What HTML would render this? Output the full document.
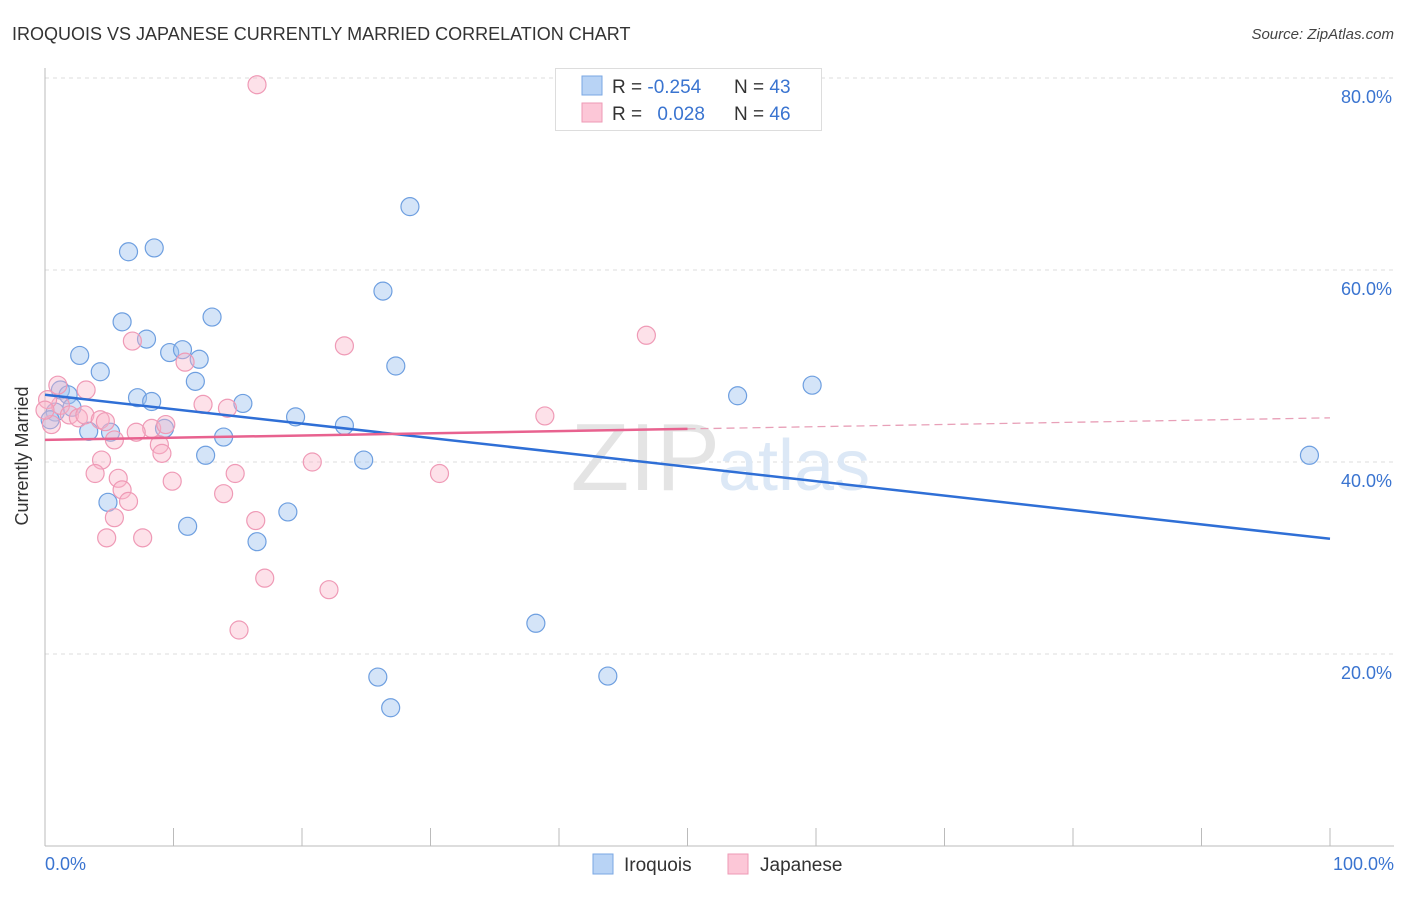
<!DOCTYPE html>
<html><head><meta charset="utf-8"><style>
body{margin:0;background:#fff;font-family:"Liberation Sans",sans-serif;}
svg text{font-family:"Liberation Sans",sans-serif;}
</style></head><body>
<svg width="1406" height="892" xmlns="http://www.w3.org/2000/svg">
<text x="12" y="40" font-size="18" fill="#333">IROQUOIS VS JAPANESE CURRENTLY MARRIED CORRELATION CHART</text>
<text x="1394" y="39" font-size="15" fill="#444" font-style="italic" text-anchor="end">Source: ZipAtlas.com</text>
<g id="grid"></g>
<text x="720" y="490" font-size="96" fill="#e4e4e4" text-anchor="end" font-family="Liberation Serif">ZIP</text>
<text x="718" y="490" font-size="72" fill="#dce8f6">atlas</text>
<g id="pts"></g>
<g id="lines"></g>
<text x="28" y="456" font-size="18" fill="#333" transform="rotate(-90 28 456)" text-anchor="middle">Currently Married</text>
<text x="45" y="870" font-size="18" fill="#3a74d0">0.0%</text>
<text x="1394" y="870" font-size="18" fill="#3a74d0" text-anchor="end">100.0%</text>
<g>
<rect x="555.5" y="68.5" width="266" height="62" fill="#fff" stroke="#ddd"/>
<rect x="582" y="76" width="20" height="19" fill="#b8d3f5" stroke="#7aa7e3"/>
<rect x="582" y="103" width="20" height="19" fill="#fcc7d7" stroke="#ee9ab5"/>
<text x="612" y="93" font-size="19" fill="#333">R = <tspan fill="#3a74d0">-0.254</tspan></text>
<text x="734" y="93" font-size="19" fill="#333">N = <tspan fill="#3a74d0">43</tspan></text>
<text x="612" y="120" font-size="19" fill="#333">R = <tspan fill="#3a74d0" dx="10">0.028</tspan></text>
<text x="734" y="120" font-size="19" fill="#333">N = <tspan fill="#3a74d0">46</tspan></text>
</g>
<g>
<rect x="593" y="854" width="20" height="20" fill="#b8d3f5" stroke="#7aa7e3"/>
<text x="624" y="871" font-size="19" fill="#333">Iroquois</text>
<rect x="728" y="854" width="20" height="20" fill="#fcc7d7" stroke="#ee9ab5"/>
<text x="760" y="871" font-size="19" fill="#333">Japanese</text>
</g>
</svg>
<script>
const yTicks=[20,40,60,80];
const xTicks=[0,10,20,30,40,50,60,70,80,90,100];
const blueX=[28.4,6.5,8.5,26.3,6.0,13.0,7.9,2.7,9.7,10.7,12.0,27.3,4.3,11.7,1.2,1.8,7.2,8.3,15.4,2.1,0.8,19.5,23.3,9.3,3.4,5.1,13.9,12.5,24.8,4.9,11.1,18.9,16.5,38.2,25.9,43.8,26.9,53.9,59.7,98.4,0.4];
const blueY=[66.6,61.9,62.3,57.8,54.6,55.1,52.8,51.1,51.4,51.7,50.7,50.0,49.4,48.4,47.5,47.0,46.7,46.3,46.1,45.7,45.2,44.7,43.8,43.5,43.2,43.1,42.6,40.7,40.2,35.8,33.3,34.8,31.7,23.2,17.6,17.7,14.4,46.9,48.0,40.7,44.4];
const pinkX=[16.5,46.8,23.3,6.8,10.9,3.2,1.0,1.2,1.9,2.6,3.1,4.3,4.7,5.4,8.3,9.4,7.1,8.9,9.1,12.3,14.2,38.9,4.4,3.9,14.8,20.8,30.7,5.7,9.9,6.0,6.5,13.9,5.4,16.4,4.8,7.6,17.1,22.1,15.1,0.2,0.5,0.0];
const pinkY=[79.3,53.2,52.1,52.6,50.4,47.5,48.0,45.9,44.9,44.6,44.9,44.4,44.2,42.3,43.5,43.9,43.1,41.8,40.9,46.0,45.6,44.8,40.2,38.8,38.8,40.0,38.8,38.3,38.0,37.1,35.9,36.7,34.2,33.9,32.1,32.1,27.9,26.7,22.5,46.5,43.9,45.4];
const blueTrend=[47.0,32.0];
const pinkTrend=[42.3,44.6];
const pinkSolidEnd=50;
const NS="http://www.w3.org/2000/svg";
const X=v=>45+v*12.85, Y=v=>846-v*9.6;
function mk(t,a,p){const e=document.createElementNS(NS,t);for(const k in a)e.setAttribute(k,a[k]);p.appendChild(e);return e;}
const g=document.getElementById('grid');
yTicks.forEach(t=>{
 const l=mk('line',{x1:45,x2:1394,y1:Y(t),y2:Y(t),stroke:'#ddd','stroke-dasharray':'4,4'},g);
 
 
 const tx=mk('text',{x:1392,y:Y(t)+25,'font-size':18,fill:'#3a74d0','text-anchor':'end'},g);tx.textContent=t.toFixed(1)+'%';
 
 
});
const ax=mk('line',{x1:45,x2:1394,y1:846,y2:846,stroke:'#bbb'},g);


const ay=mk('line',{x1:45,x2:45,y1:68,y2:846,stroke:'#bbb'},g);


xTicks.forEach(t=>{const l=mk('line',{x1:X(t),x2:X(t),y1:828,y2:846,stroke:'#bbb'},g);
 
 });
const p=document.getElementById('pts');
blueX.forEach((v,i)=>{const c=mk('circle',{cx:X(v),cy:Y(blueY[i]),r:9,fill:'rgba(160,196,240,0.45)',stroke:'#6e9fe0','stroke-width':1.2},p);
 
 });
pinkX.forEach((v,i)=>{const c=mk('circle',{cx:X(v),cy:Y(pinkY[i]),r:9,fill:'rgba(250,180,200,0.4)',stroke:'#ef9ab6','stroke-width':1.2},p);
 
 });
const L=document.getElementById('lines');
const b=mk('line',{x1:X(0),y1:Y(blueTrend[0]),x2:X(100),y2:Y(blueTrend[1]),stroke:'#2f6fd6','stroke-width':2.5},L);


const pm=pinkTrend[0]+(pinkTrend[1]-pinkTrend[0])*pinkSolidEnd/100;
const ps=mk('line',{x1:X(0),y1:Y(pinkTrend[0]),x2:X(pinkSolidEnd),y2:Y(pm),stroke:'#e8628f','stroke-width':2.5},L);


const pd=mk('line',{x1:X(pinkSolidEnd),y1:Y(pm),x2:X(100),y2:Y(pinkTrend[1]),stroke:'#e8a0b8','stroke-width':1.3,'stroke-dasharray':'8,5'},L);


</script>
</body></html>
